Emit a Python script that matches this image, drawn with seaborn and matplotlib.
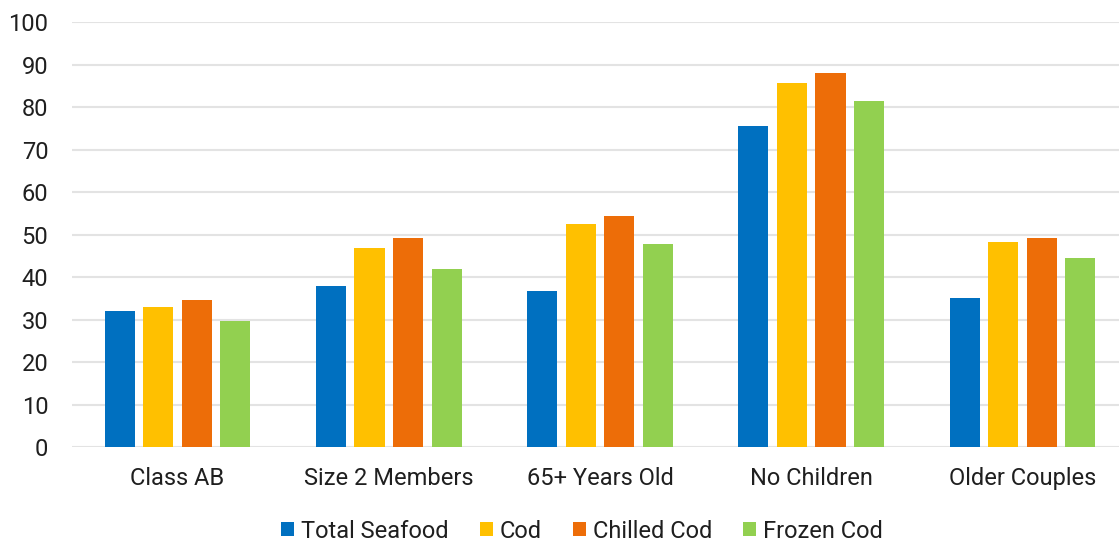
import matplotlib
matplotlib.use("Agg")
import matplotlib.pyplot as plt
from matplotlib.patches import Patch
import seaborn as sns
import pandas as pd

categories = ["Class AB", "Size 2 Members", "65+ Years Old", "No Children", "Older Couples"]
series = ["Total Seafood", "Cod", "Chilled Cod", "Frozen Cod"]
total_seafood = [32.1, 37.9, 36.8, 75.7, 35.1]
cod = [33.0, 46.9, 52.5, 85.6, 48.2]
chilled_cod = [34.6, 49.3, 54.4, 88.0, 49.2]
frozen_cod = [29.8, 41.9, 47.9, 81.4, 44.6]
y_ticks = [0, 10, 20, 30, 40, 50, 60, 70, 80, 90, 100]

colors = ["#0070C0", "#FFC000", "#ED6D08", "#92D050"]

rows = []
for name, vals in zip(series, [total_seafood, cod, chilled_cod, frozen_cod]):
    for cat, v in zip(categories, vals):
        rows.append({"Group": cat, "Series": name, "Value": v})
df = pd.DataFrame(rows)

sns.set_theme(style="white")
plt.rcParams["font.family"] = ["Roboto", "DejaVu Sans"]
text_color = "#1f1f1f"

W, H = 1119, 543
fig = plt.figure(figsize=(W / 100, H / 100), dpi=100)
# plot area runs slightly past the right edge of the canvas
ax = fig.add_axes([72 / W, 95.7 / H, 1056 / W, (520.7 - 95.7) / H])

sns.barplot(data=df, x="Group", y="Value", hue="Series", order=categories,
            hue_order=series, palette=colors, width=0.73, gap=0.22,
            saturation=1, edgecolor="none", legend=False, ax=ax, zorder=3)

ax.set_ylim(0, 100)
ax.set_xlim(-0.5, 4.5)
ax.set_yticks(y_ticks)
ax.yaxis.grid(True, color="#e3e3e3", linewidth=1.5, zorder=0)
ax.xaxis.grid(False)
for s in ax.spines.values():
    s.set_visible(False)
ax.set_xlabel("")
ax.set_ylabel("")
ax.tick_params(axis="y", length=0, pad=17, labelsize=17, labelcolor=text_color)
ax.tick_params(axis="x", length=0, pad=14.5, labelsize=17, labelcolor=text_color)

handles = [Patch(facecolor=c, edgecolor="none", label=n) for c, n in zip(colors, series)]
fig.legend(handles=handles, loc="center", bbox_to_anchor=(582 / W, 1 - 531 / H),
           ncol=4, frameon=False, fontsize=17, handlelength=0.55, handleheight=0.55,
           handletextpad=0.3, columnspacing=1.3, labelcolor=text_color,
           borderpad=0, borderaxespad=0)

fig.savefig("out.png", dpi=100)
